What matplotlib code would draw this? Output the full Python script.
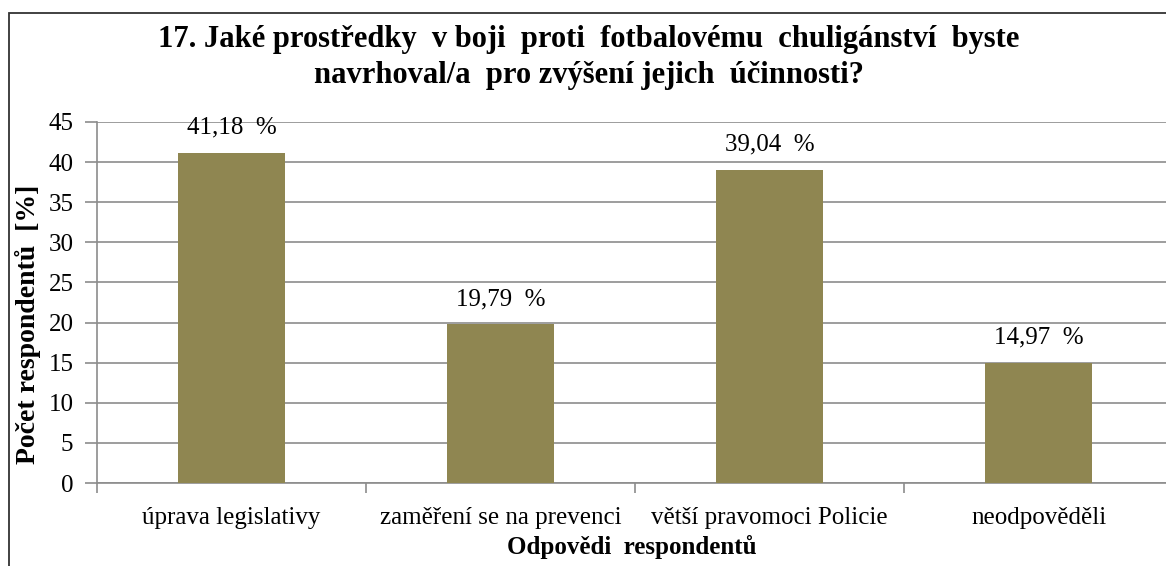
import matplotlib
matplotlib.use('Agg')
import matplotlib.pyplot as plt
from matplotlib.patches import Rectangle

categories = ['úprava legislativy', 'zaměření se na prevenci', 'větší pravomoci Policie', 'neodpověděli']
values = [41.18, 19.79, 39.04, 14.97]
value_labels = ['41,18  %', '19,79  %', '39,04  %', '14,97  %']
yticks = [0, 5, 10, 15, 20, 25, 30, 35, 40, 45]
title_lines = ['17. Jaké prostředky  v boji  proti  fotbalovému  chuligánství  byste',
               'navrhoval/a  pro zvýšení jejich  účinnosti?']

plt.rcParams['font.family'] = ['Liberation Serif', 'DejaVu Serif']

W, H = 1166, 566
fig = plt.figure(figsize=(W / 100, H / 100), dpi=100)

# outer frame (clipped at the right and bottom like the source)
fig.patches.append(Rectangle((9 / W, -0.1), 1.2, 1 - 13 / H + 0.1, transform=fig.transFigure,
                             fill=False, edgecolor='#333333', linewidth=1.3))

ax = fig.add_axes([97 / W, 83 / H, 1076 / W, 361 / H])
x = list(range(len(categories)))
ax.bar(x, values, width=0.4, color='#8F8651', zorder=3)
ax.set_xlim(-0.5, 3.5)
ax.set_ylim(0, 45)
ax.set_yticks(yticks)
ax.yaxis.grid(True, color='#8c8c8c', linewidth=1.2, zorder=0)
ax.set_xticks(x)
ax.set_xticklabels(categories, fontsize=18)
ax.set_xticks([-0.5, 0.5, 1.5, 2.5, 3.5], minor=True)
ax.tick_params(axis='x', which='major', length=0, pad=17)
ax.tick_params(axis='x', which='minor', length=7, color='#8c8c8c', width=1.2)
ax.tick_params(axis='y', length=9, color='#8c8c8c', width=1.2, labelsize=18, pad=8)
for s in ['top', 'right']:
    ax.spines[s].set_visible(False)
for s in ['left', 'bottom']:
    ax.spines[s].set_color('#8c8c8c')
    ax.spines[s].set_linewidth(1.2)

for xi, v, lab in zip(x, values, value_labels):
    ax.annotate(lab, (xi, v), xytext=(0, 18), textcoords='offset points',
                ha='center', va='center', fontsize=18)

ax.set_ylabel('Počet respondentů  [%]', fontsize=20, fontweight='bold')
ax.yaxis.set_label_coords(-56 / 1076, 0.44)
fig.text(632 / W, 1 - 547 / H, 'Odpovědi  respondentů', ha='center', va='center',
         fontsize=18, fontweight='bold')
fig.text(589 / W, 1 - 40 / H, title_lines[0], ha='center', va='center',
         fontsize=22, fontweight='bold')
fig.text(589 / W, 1 - 75 / H, title_lines[1], ha='center', va='center',
         fontsize=22, fontweight='bold')

fig.savefig('out.png', dpi=100)
